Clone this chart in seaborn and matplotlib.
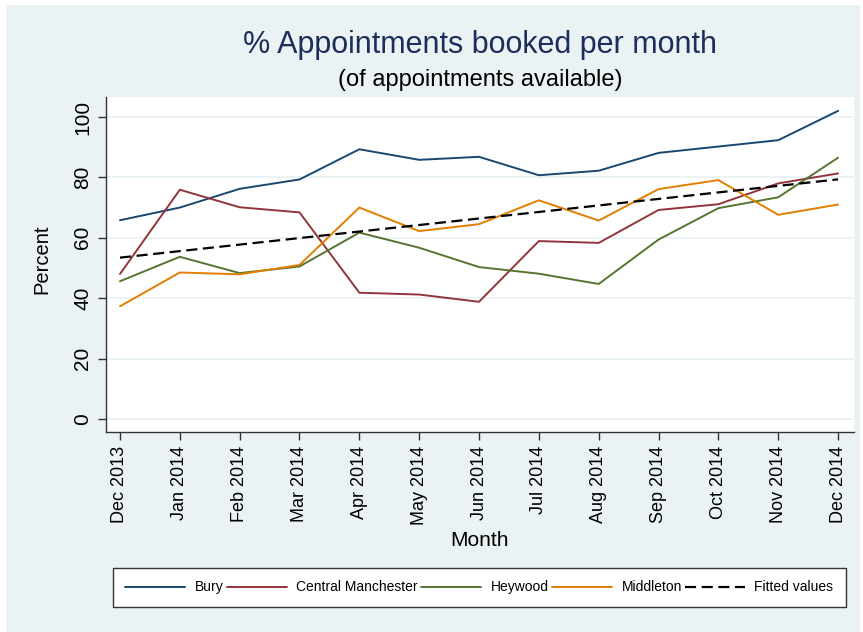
import numpy as np
import pandas as pd
import matplotlib
matplotlib.use('Agg')
import matplotlib.pyplot as plt
import seaborn as sns
from matplotlib.patches import Rectangle

# Data
months = ['Dec 2013', 'Jan 2014', 'Feb 2014', 'Mar 2014', 'Apr 2014', 'May 2014', 'Jun 2014',
          'Jul 2014', 'Aug 2014', 'Sep 2014', 'Oct 2014', 'Nov 2014', 'Dec 2014']
bury = [65.8, 70.0, 76.2, 79.3, 89.3, 85.8, 86.8, 80.7, 82.2, 88.1, 90.2, 92.3, 102.0]
central_manchester = [48.0, 75.9, 70.1, 68.4, 41.8, 41.2, 38.8, 58.9, 58.3, 69.2, 71.1, 78.0, 81.3]
heywood = [45.6, 53.7, 48.3, 50.5, 61.7, 56.7, 50.3, 48.1, 44.7, 59.4, 69.8, 73.4, 86.5]
middleton = [37.3, 48.5, 47.9, 51.0, 70.0, 62.2, 64.5, 72.4, 65.7, 76.1, 79.1, 67.6, 71.0]

sites = ['Bury', 'Central Manchester', 'Heywood', 'Middleton']
colors = ['#1a476f', '#90353b', '#55752f', '#e37e00']
y_ticks = [0, 20, 40, 60, 80, 100]

# Long format table
month_idx = np.arange(len(months))
df = pd.concat([
    pd.DataFrame({'month': month_idx, 'percent': vals, 'site': name})
    for name, vals in zip(sites, [bury, central_manchester, heywood, middleton])
], ignore_index=True)

sns.set_theme(style='white')
plt.rcParams['font.family'] = ['Liberation Sans', 'DejaVu Sans']

bg = '#eaf2f3'
fig = plt.figure(figsize=(8.63, 6.32), dpi=100, facecolor='white')
fig.patches.append(Rectangle((0.007, 0.0), 0.99, 0.992, transform=fig.transFigure,
                             facecolor=bg, edgecolor='none', zorder=-10))
ax = fig.add_axes([0.1228, 0.3165, 0.8668, 0.530])
ax.set_zorder(2)
ax.set_facecolor('white')

sns.lineplot(data=df, x='month', y='percent', hue='site', hue_order=sites,
             palette=colors, linewidth=1.4, ax=ax, legend=False)

# Linear fit over all sites pooled
sns.regplot(data=df, x='month', y='percent', scatter=False, ci=None, ax=ax,
            color='black', line_kws={'linewidth': 1.6, 'linestyle': (0, (5, 2.5))})

ax.set_xlim(-0.234, 12.267)
ax.set_ylim(-4.3, 106.6)
ax.set_xticks(month_idx)
ax.set_xticklabels(months, rotation=90, fontsize=13)
ax.set_yticks(y_ticks)
ax.set_yticklabels([str(t) for t in y_ticks], rotation=90, fontsize=15, va='center')
ax.yaxis.grid(True, color=bg, linewidth=1.3)
ax.xaxis.grid(False)
for s in ['top', 'right']:
    ax.spines[s].set_visible(False)
for s in ['left', 'bottom']:
    ax.spines[s].set_color('#333333')
    ax.spines[s].set_linewidth(1.0)
ax.tick_params(axis='both', direction='out', length=6, width=1.0, color='#333333',
               labelcolor='black', bottom=True, left=True, pad=4)
ax.set_xlabel('')
ax.set_ylabel('')

fig.text(0.556, 0.929, '% Appointments booked per month', ha='center', va='center',
         fontsize=22, color='#1e2d5c')
fig.text(0.556, 0.873, '(of appointments available)', ha='center', va='center',
         fontsize=17, color='black')
fig.text(0.556, 0.144, 'Month', ha='center', va='center', fontsize=15, color='black')
fig.text(0.0487, 0.59, 'Percent', ha='center', va='center', rotation=90, fontsize=14.5,
         color='black')

handles = [plt.Line2D([], [], color=c, linewidth=1.4) for c in colors]
handles.append(plt.Line2D([], [], color='black', linewidth=1.6, linestyle=(0, (5, 2.5))))
labels = sites + ['Fitted values']
leg = fig.legend(handles, labels, loc='lower left', ncol=5, mode='expand',
                 bbox_to_anchor=(0.1309, 0.0396, 0.8494, 0.0649), fontsize=10,
                 frameon=True, fancybox=False, framealpha=1, handlelength=4.3,
                 handletextpad=0.7, borderaxespad=0.0, columnspacing=0.8, borderpad=0.9)
leg.get_frame().set_edgecolor('#333333')
leg.get_frame().set_linewidth(1.0)
leg.get_frame().set_facecolor('white')
for t in leg.get_texts():
    t.set_color('black')

fig.savefig('out.png', dpi=100, facecolor=fig.get_facecolor())
